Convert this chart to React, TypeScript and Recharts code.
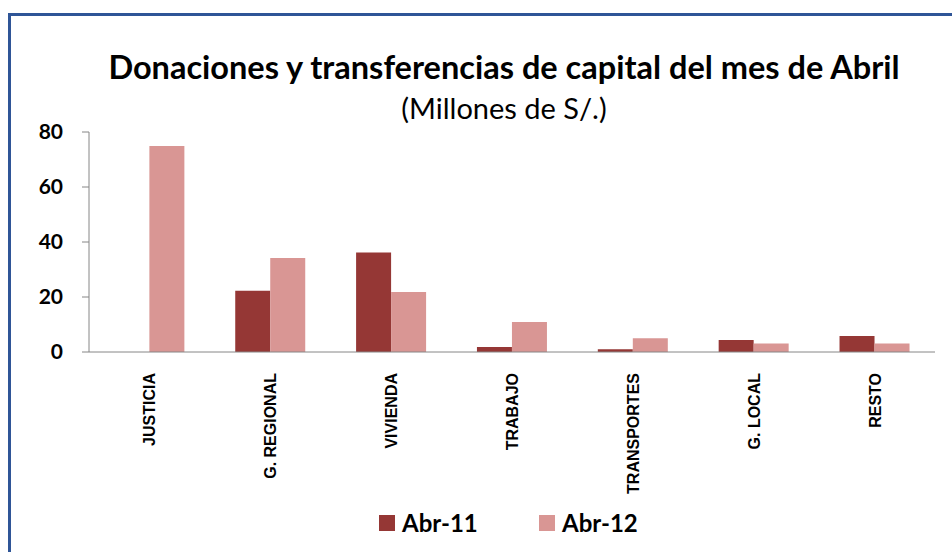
import { BarChart, Bar, XAxis, YAxis } from 'recharts';

const categories = ['JUSTICIA', 'G. REGIONAL', 'VIVIENDA', 'TRABAJO', 'TRANSPORTES', 'G. LOCAL', 'RESTO'];
const abr11 = [0, 22.3, 36.2, 1.8, 1.0, 4.4, 5.8];
const abr12 = [74.9, 34.2, 21.8, 10.9, 5.0, 3.1, 3.1];
const yTicks = [0, 20, 40, 60, 80];
const boundaryTicks = [0, 1, 2, 3, 4, 5, 6, 7];
const seriesNames = ['Abr-11', 'Abr-12'];

const data = categories.map((name, i) => ({ name, abr11: abr11[i], abr12: abr12[i] }));

const C11 = '#953735';
const C12 = '#D99694';
const AXIS = '#868686';

const CategoryTick = (props: any) => {
  const { x, y, payload } = props;
  return (
    <g transform={`translate(${x},${y})`}>
      <text
        transform="rotate(-90)"
        x={0}
        y={6}
        textAnchor="end"
        fontFamily="'Liberation Sans', Arial, sans-serif"
        fontWeight="bold"
        fontSize={16}
        fill="#000"
      >
        {payload.value}
      </text>
    </g>
  );
};

export default function App() {
  const colors = [C11, C12];
  return (
    <div style={{ position: 'fixed', left: 0, top: 0, width: 952, height: 552, overflow: 'hidden', background: '#fff' }}>
      <div
        style={{
          position: 'absolute',
          left: 8,
          top: 13,
          width: 1100,
          height: 700,
          borderLeft: '3px solid #2f5597',
          borderTop: '3px solid #2f5597',
        }}
      />
      <div style={{ position: 'absolute', left: 0, width: 1008, top: 47, textAlign: 'center', fontFamily: 'Lato, sans-serif', fontWeight: 'bold', fontSize: 32.5, color: '#000', whiteSpace: 'nowrap' }}>
        Donaciones y transferencias de capital del mes de Abril
      </div>
      <div style={{ position: 'absolute', left: 0, width: 1008, top: 90, textAlign: 'center', fontFamily: 'Lato, sans-serif', fontSize: 29, color: '#000' }}>
        (Millones de S/.)
      </div>
      <div style={{ position: 'absolute', left: 0, top: 0 }}>
        <BarChart
          width={952}
          height={552}
          data={data}
          margin={{ top: 132, right: 17, left: 29, bottom: 0 }}
          barGap={0}
          barCategoryGap="21%"
        >
          <XAxis
            xAxisId="a"
            type="number"
            domain={[0, 7]}
            ticks={boundaryTicks}
            allowDataOverflow
            height={12}
            stroke={AXIS}
            tickSize={6}
            tick={false}
          />
          <XAxis
            xAxisId="b"
            dataKey="name"
            height={188}
            axisLine={false}
            tickLine={false}
            interval={0}
            tick={<CategoryTick />}
            tickMargin={3}
          />
          <YAxis
            domain={[0, 80]}
            ticks={yTicks}
            width={60}
            stroke={AXIS}
            tickSize={7}
            tickMargin={19}
            tick={{ fill: '#000', fontFamily: 'Lato, sans-serif', fontWeight: 'bold', fontSize: 21 }}
          />
          <Bar xAxisId="b" dataKey="abr11" name={seriesNames[0]} fill={C11} isAnimationActive={false} />
          <Bar xAxisId="b" dataKey="abr12" name={seriesNames[1]} fill={C12} isAnimationActive={false} />
        </BarChart>
      </div>
      <div style={{ position: 'absolute', left: 379, top: 508, display: 'flex', fontFamily: 'Lato, sans-serif', fontWeight: 'bold', fontSize: 24, color: '#000' }}>
        {seriesNames.map((label, i) => (
          <div key={label} style={{ display: 'flex', alignItems: 'center', width: 160 }}>
            <span style={{ width: 16, height: 16, background: colors[i], display: 'inline-block', marginRight: 7 }} />
            <span>{label}</span>
          </div>
        ))}
      </div>
    </div>
  );
}
